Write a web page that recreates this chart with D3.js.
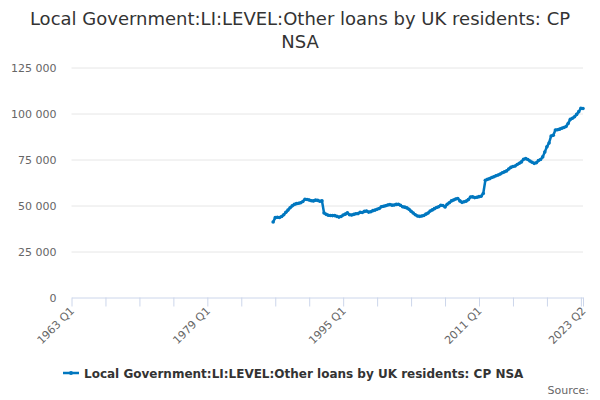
<!DOCTYPE html>
<html>
<head>
<meta charset="utf-8">
<script src="https://cdn.jsdelivr.net/npm/d3@7"></script>
<style>
  body { margin: 0; background: #fff; }
  text { font-family: "DejaVu Sans", sans-serif; }
</style>
</head>
<body>
<svg id="chart" width="600" height="400"></svg>
<script>
// Quarterly categories, 1963 Q1 .. 2023 Q2
var firstYear = 1963;
var categories = [];
for (var y = firstYear; y <= 2023; y++) {
  for (var q = 1; q <= 4; q++) {
    if (y === 2023 && q > 2) break;
    categories.push(y + ' Q' + q);
  }
}

// series starts at 1986 Q4 (earlier quarters have no data)
var seriesStart = '1986 Q4';
var seriesValues = [
  41000, 43400, 43600, 43500, 44000, 45000, 46300, 47500, 48800, 49800,
  50600, 51000, 51200, 51500, 52200, 53400, 53300, 53000, 52600, 52500,
  52900, 52800, 52300, 52600, 45900, 45200, 44700, 44600, 44500, 44500,
  44100, 43700, 44000, 44800, 45300, 46000, 45000, 44800, 45200, 45500,
  45600, 46300, 46200, 46800, 47000, 46400, 46600, 47200, 47500, 48000,
  48400, 49300, 49600, 49900, 50300, 50500, 50200, 50300, 50600, 50700,
  50100, 49300, 49100, 48700, 48000, 46900, 45900, 45000, 44300, 44100,
  44300, 44600, 45300, 45900, 47000, 47600, 48300, 48900, 49300, 50100,
  50000, 49200, 50700, 51500, 52500, 53000, 53500, 53800, 52500, 51700,
  52000, 52400, 53200, 54600, 54700, 54300, 54500, 54800, 55000, 56500,
  63700, 64200, 64600, 65200, 65600, 66200, 66600, 67100, 67800, 68300,
  68800, 69800, 70700, 71200, 71500, 72300, 73000, 73700, 75100, 75500,
  75000, 74200, 73500, 72900, 73200, 74400, 75000, 76400, 79100, 81900,
  84000, 87800, 88200, 91000, 91200, 91500, 92000, 92400, 92900, 94600,
  96800, 97400, 98200, 99500, 101000, 102800, 102700
];

var yTicks = [0, 25000, 50000, 75000, 100000, 125000];
var xLabelTicks = ['1963 Q1', '1979 Q1', '1995 Q1', '2011 Q1', '2023 Q2'];

var titleLines = ['Local Government:LI:LEVEL:Other loans by UK residents: CP', 'NSA'];
var seriesName = 'Local Government:LI:LEVEL:Other loans by UK residents: CP NSA';
var color = '#0077bf';

var svg = d3.select('#chart');
var plot = { left: 71.5, right: 583, top: 67.5, bottom: 297.5 };

var x = d3.scaleLinear()
    .domain([0, categories.length - 1])
    .range([plot.left, plot.right]);
var yScale = d3.scaleLinear()
    .domain([0, 125000])
    .range([plot.bottom, plot.top]);

var startIdx = categories.indexOf(seriesStart);
var data = seriesValues.map(function(v, i) { return { i: startIdx + i, v: v }; });

// title
svg.append('g').selectAll('text')
    .data(titleLines)
  .enter().append('text')
    .attr('x', 300)
    .attr('y', function(d, i) { return 25 + i * 23; })
    .attr('text-anchor', 'middle')
    .attr('font-size', '18px')
    .attr('fill', '#333')
    .text(function(d) { return d; });

// y gridlines + labels
var fmt = function(d) { return d3.format(',')(d).replace(/,/g, ' '); };
var yAxis = d3.axisLeft(yScale)
    .tickValues(yTicks)
    .tickSize(-(plot.right - plot.left))
    .tickPadding(15)
    .tickFormat(fmt);
var gy = svg.append('g')
    .attr('transform', 'translate(' + plot.left + ',0)')
    .call(yAxis);
gy.select('.domain').remove();
gy.selectAll('.tick line').attr('stroke', '#e6e6e6');
gy.selectAll('.tick text')
    .attr('fill', '#666')
    .attr('font-size', '11px')
    .attr('font-family', 'DejaVu Sans, sans-serif');
gy.selectAll('.tick').filter(function(d) { return d === 0; }).select('line').remove();

// x axis: tick every 16 quarters plus last
var tickIdx = d3.range(0, categories.length, 16);
tickIdx.push(categories.length - 1);
var xAxis = d3.axisBottom(x)
    .tickValues(tickIdx)
    .tickSize(9)
    .tickSizeOuter(0)
    .tickFormat(function(i) {
      return xLabelTicks.indexOf(categories[i]) >= 0 ? categories[i] : '';
    });
var gx = svg.append('g')
    .attr('transform', 'translate(0,' + plot.bottom + ')')
    .call(xAxis);
gx.select('.domain').attr('stroke', '#ccd6eb');
gx.selectAll('.tick line').attr('stroke', '#ccd6eb');
gx.selectAll('.tick text')
    .attr('fill', '#666')
    .attr('font-size', '11px')
    .attr('font-family', 'DejaVu Sans, sans-serif')
    .attr('text-anchor', 'end')
    .attr('dy', null)
    .attr('y', 0)
    .attr('transform', 'translate(3,14) rotate(-45)');

// series line
var line = d3.line()
    .x(function(d) { return x(d.i); })
    .y(function(d) { return yScale(d.v); });
svg.append('path')
    .datum(data)
    .attr('fill', 'none')
    .attr('stroke', color)
    .attr('stroke-width', 2.5)
    .attr('stroke-linejoin', 'round')
    .attr('d', line);
svg.append('g').selectAll('circle')
    .data(data)
  .enter().append('circle')
    .attr('cx', function(d) { return x(d.i); })
    .attr('cy', function(d) { return yScale(d.v); })
    .attr('r', 1.8)
    .attr('fill', color);

// legend
var lg = svg.append('g').attr('transform', 'translate(63,373)');
lg.append('line')
    .attr('x1', 0).attr('x2', 16)
    .attr('stroke', color).attr('stroke-width', 2.5);
lg.append('circle').attr('cx', 8).attr('r', 2).attr('fill', color);
lg.append('text')
    .attr('x', 21)
    .attr('y', 4.5)
    .attr('font-size', '12px')
    .attr('font-weight', 'bold')
    .attr('fill', '#333')
    .text(seriesName);

// credits
svg.append('text')
    .attr('x', 589)
    .attr('y', 394)
    .attr('text-anchor', 'end')
    .attr('font-size', '11px')
    .attr('fill', '#666')
    .text('Source:');
</script>
</body>
</html>
